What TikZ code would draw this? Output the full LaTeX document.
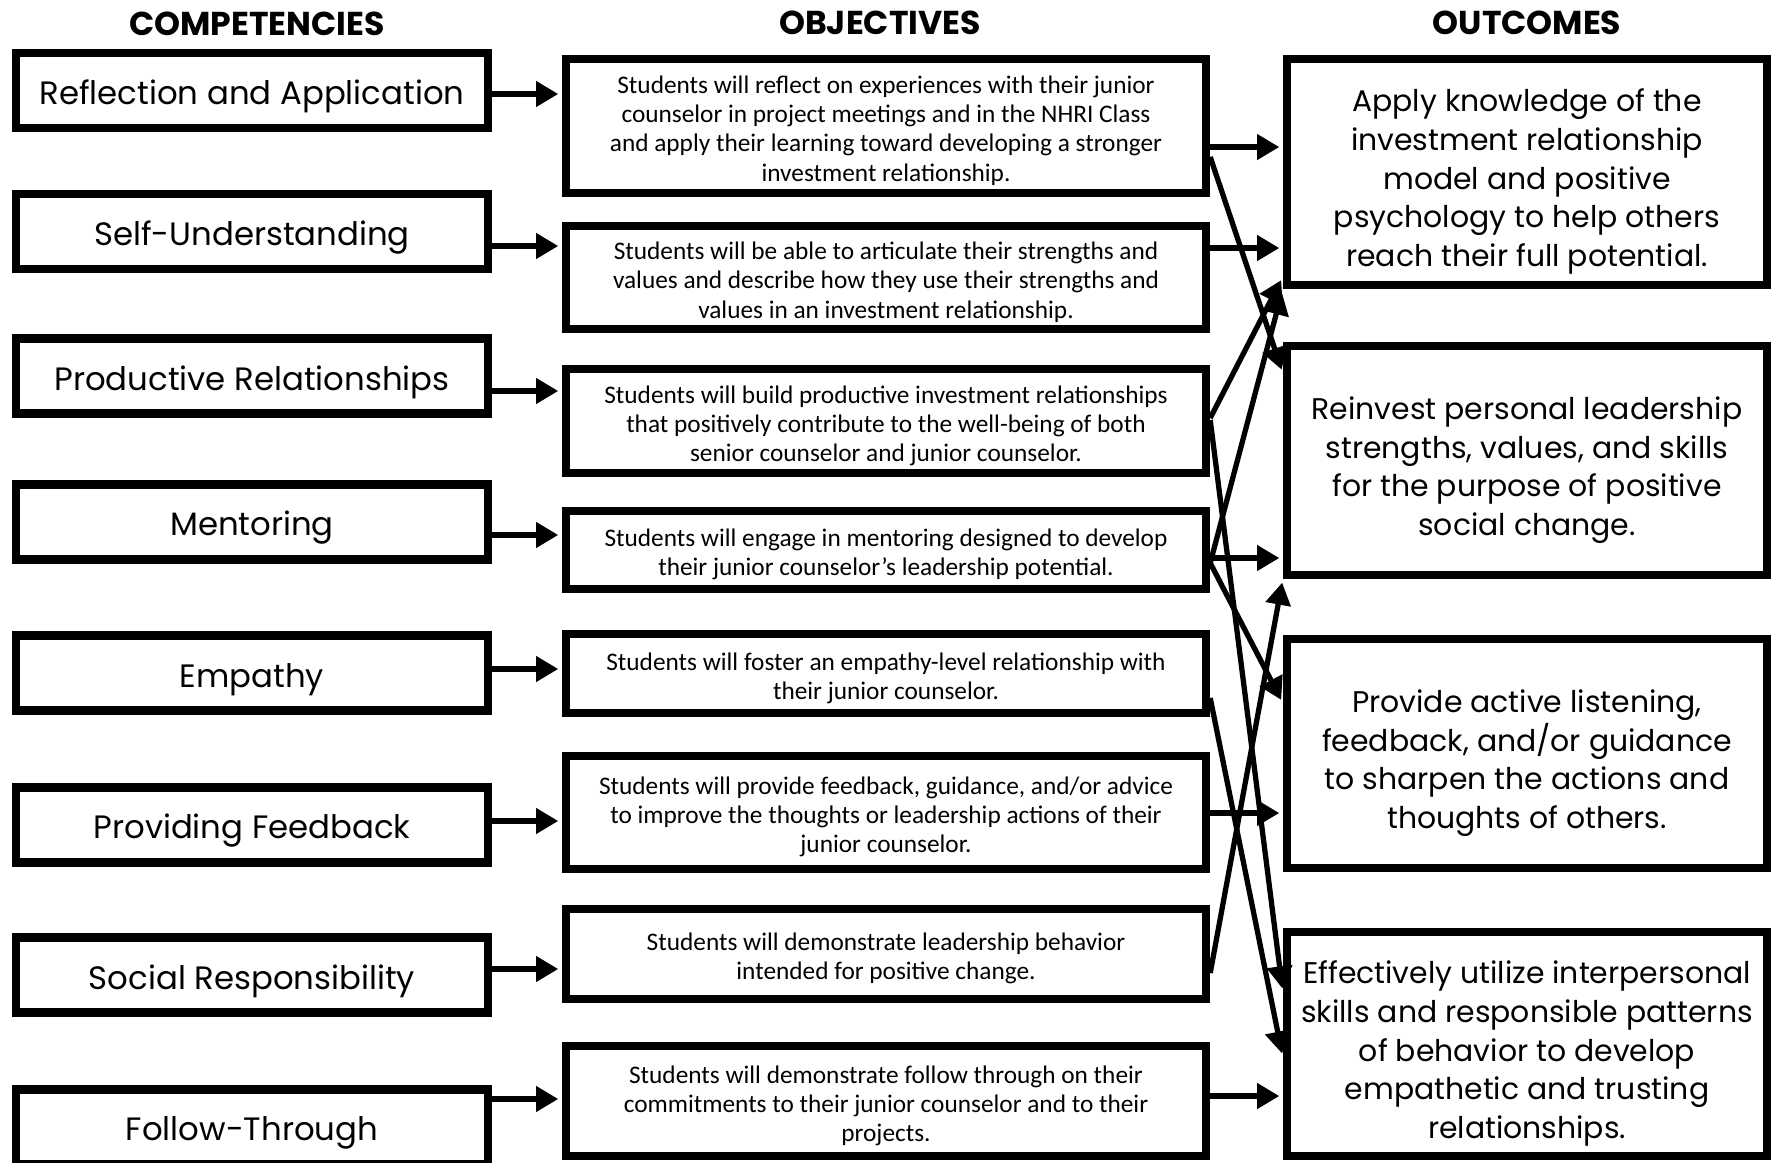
\documentclass[tikz,border=0pt]{standalone}
\usepackage{fontspec}
\setmainfont{Poppins}
\newfontfamily\objfont{Carlito}
\usetikzlibrary{arrows.meta}
\newcommand{\dn}[1]{\rule{0pt}{#1}}

\begin{document}
\begin{tikzpicture}[x=0.01cm,y=-0.01cm]
\tikzstyle{every node} = [align=center, inner sep=0pt];
\tikzstyle{head} = [font=\fontsize{9.4}{11}\selectfont\bfseries];
\tikzstyle{box} = [draw, rectangle, line width=2.3pt];
\tikzstyle{comp} = [box, minimum width=4.72cm, minimum height=0.75cm, font=\fontsize{9.2}{11}\selectfont];
\tikzstyle{obj} = [box, minimum width=6.40cm, font=\objfont\fontsize{7.2}{8.3}\selectfont];
\tikzstyle{outc} = [box, minimum width=4.80cm, font=\fontsize{8.5}{11}\selectfont];
\tikzstyle{arr} = [line width=1.5pt, shorten >=1pt, -{Triangle[length=6.3pt,width=7pt]}];
\useasboundingbox (0,0) rectangle (1771,1163);
% column titles
\node[head] (h1) at (257,24) {COMPETENCIES};
\node[head] (h2) at (880,23) {OBJECTIVES};
\node[head] (h3) at (1527,23) {OUTCOMES};
% competencies
\node[comp] (c1) at (252,90.5) {\dn{10.4pt}Reflection and Application};
\node[comp] (c2) at (252,231.5) {\dn{10.4pt}Self-Understanding};
\node[comp] (c3) at (252,376) {\dn{10.4pt}Productive Relationships};
\node[comp] (c4) at (252,522) {\dn{10.4pt}Mentoring};
\node[comp] (c5) at (252,673) {\dn{10.4pt}Empathy};
\node[comp] (c6) at (252,825) {\dn{10.4pt}Providing Feedback};
\node[comp] (c7) at (252,975) {\dn{10.4pt}Social Responsibility};
\node[comp] (c8) at (252,1127) {\dn{10.4pt}Follow-Through};
% objectives
\node[obj, minimum height=1.34cm] (o1) at (886,126) {\dn{7.6pt}Students will reflect on experiences with their junior\\counselor in project meetings and in the NHRI Class\\and apply their learning toward developing a stronger\\investment relationship.};
\node[obj, minimum height=1.03cm] (o2) at (886,277.5) {\dn{7.6pt}Students will be able to articulate their strengths and\\values and describe how they use their strengths and\\values in an investment relationship.};
\node[obj, minimum height=1.04cm] (o3) at (886,421) {\dn{7.6pt}Students will build productive investment relationships\\that positively contribute to the well-being of both\\senior counselor and junior counselor.};
\node[obj, minimum height=0.78cm] (o4) at (886,550) {\dn{7.6pt}Students will engage in mentoring designed to develop\\their junior counselor’s leadership potential.};
\node[obj, minimum height=0.79cm] (o5) at (886,673.5) {\dn{7.6pt}Students will foster an empathy-level relationship with\\their junior counselor.};
\node[obj, minimum height=1.13cm] (o6) at (886,812.5) {\dn{7.6pt}Students will provide feedback, guidance, and/or advice\\to improve the thoughts or leadership actions of their\\junior counselor.};
\node[obj, minimum height=0.90cm] (o7) at (886,954) {\dn{7.6pt}Students will demonstrate leadership behavior\\intended for positive change.};
\node[obj, minimum height=1.10cm] (o8) at (886,1101) {\dn{7.6pt}Students will demonstrate follow through on their\\commitments to their junior counselor and to their\\projects.};
% outcomes
\node[outc, minimum height=2.26cm] (u1) at (1527,172) {\dn{12pt}Apply knowledge of the\\investment relationship\\model and positive\\psychology to help others\\reach their full potential.};
\node[outc, minimum height=2.29cm] (u2) at (1527,460.5) {\dn{12pt}Reinvest personal leadership\\strengths, values, and skills\\for the purpose of positive\\social change.};
\node[outc, minimum height=2.29cm] (u3) at (1527,753.5) {\dn{12pt}Provide active listening,\\feedback, and/or guidance\\to sharpen the actions and\\thoughts of others.};
\node[outc, minimum height=2.24cm] (u4) at (1527,1044) {\dn{12pt}Effectively utilize interpersonal\\skills and responsible patterns\\of behavior to develop\\empathetic and trusting\\relationships.};
% competency -> objective
\foreach \i/\y in {1/94,2/246,3/391,4/535,5/669,6/821,7/969,8/1099}
  \draw[arr] (c\i.east |- 0,\y) -- (o\i.west |- 0,\y);
% objective -> outcome
\draw[arr] (o1.east |- 0,147) -- (u1.west |- 0,147);
\draw[arr] (o1.east |- 0,157) -- (u2.west |- 0,373);
\draw[arr] (o2.east |- 0,248) -- (u1.west |- 0,248);
\draw[arr] (o3.east |- 0,418) -- (u1.west |- 0,277);
\draw[arr] (o3.east |- 0,420) -- (u4.west |- 0,992);
\draw[arr] (o4.east |- 0,563) -- (u1.south west);
\draw[arr] (o4.east |- 0,558) -- (u2.west |- 0,558);
\draw[arr] (o4.east |- 0,563) -- (u3.west |- 0,703);
\draw[arr] (o5.east |- 0,698) -- (u4.west |- 0,1057);
\draw[arr] (o6.east |- 0,813) -- (u3.west |- 0,813);
\draw[arr] (o7.east |- 0,973) -- (u2.south west);
\draw[arr] (o8.east |- 0,1096) -- (u4.west |- 0,1096);
\end{tikzpicture}
\end{document}
